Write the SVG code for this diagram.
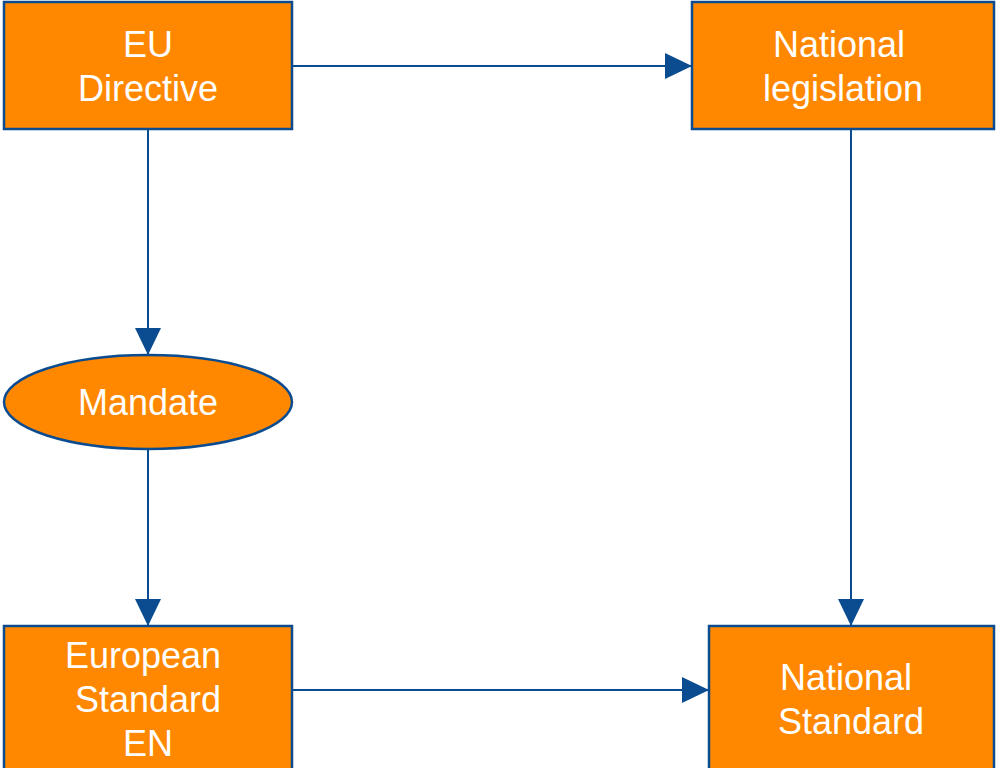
<svg xmlns="http://www.w3.org/2000/svg" width="996" height="768" viewBox="0 0 996 768">
<defs>
<marker id="arr" markerWidth="27" markerHeight="26" refX="27" refY="13" orient="auto" markerUnits="userSpaceOnUse">
<path d="M0,0 L27,13 L0,26 Z" fill="#0A4C8F"/>
</marker>
<style>
.node{fill:#FF8800;stroke:#0A4C8F;stroke-width:2.5}
.lbl{font-family:"Liberation Sans",Arial,sans-serif;font-size:36px;fill:#FFFFFF;text-anchor:middle}
.conn{stroke:#0A4C8F;stroke-width:2;fill:none;marker-end:url(#arr)}
</style>
</defs>
<rect width="996" height="768" fill="#FFFFFF"/>
<g id="connectors">
<line class="conn" x1="292" y1="66" x2="692" y2="66"/>
<line class="conn" x1="148" y1="129" x2="148" y2="355"/>
<line class="conn" x1="148" y1="449" x2="148" y2="626"/>
<line class="conn" x1="851" y1="129" x2="851" y2="626"/>
<line class="conn" x1="292" y1="690" x2="709" y2="690"/>
</g>
<g id="eu-directive">
<rect class="node" x="4" y="2" width="288" height="127"/>
<text class="lbl" x="148" y="57">EU</text>
<text class="lbl" x="148" y="101">Directive</text>
</g>
<g id="national-legislation">
<rect class="node" x="692" y="2" width="302" height="127"/>
<text class="lbl" x="839" y="57">National</text>
<text class="lbl" x="843" y="101">legislation</text>
</g>
<g id="mandate">
<ellipse class="node" cx="148" cy="402" rx="144" ry="47"/>
<text class="lbl" x="148" y="415">Mandate</text>
</g>
<g id="european-standard">
<rect class="node" x="4" y="626" width="288" height="150"/>
<text class="lbl" x="143" y="668">European</text>
<text class="lbl" x="148" y="712">Standard</text>
<text class="lbl" x="148" y="756">EN</text>
</g>
<g id="national-standard">
<rect class="node" x="709" y="626" width="285" height="150"/>
<text class="lbl" x="846" y="690">National</text>
<text class="lbl" x="851" y="734">Standard</text>
</g>
</svg>
